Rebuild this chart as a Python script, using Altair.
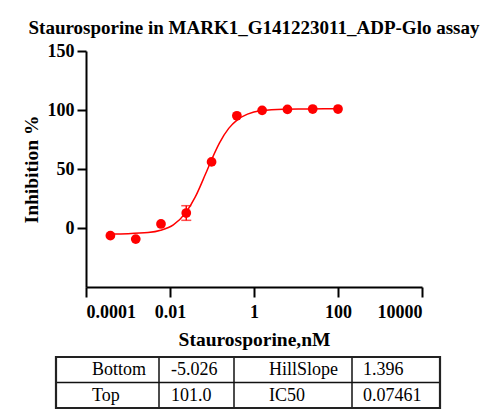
import altair as alt
import pandas as pd

# ---- data ----
conc = [0.000381, 0.00153, 0.0061, 0.0244, 0.0977, 0.391, 1.5625, 6.25, 25, 100]
inhib = [-6.5, -9.4, 3.4, 12.7, 56.0, 95.1, 99.7, 100.5, 100.8, 100.8]
err = [0, 0, 0, 6.2, 0, 0, 0, 0, 0, 0]

curve_x = [0.00038, 0.001, 0.003, 0.006, 0.012, 0.024, 0.04, 0.07, 0.1, 0.15,
           0.25, 0.4, 0.7, 1.5, 5, 20, 100]
curve_y = [-5.0, -4.8, -3.9, -1.9, 2.7, 13.2, 26.3, 45.7, 58.7, 72.0,
           84.4, 91.7, 96.5, 99.5, 100.7, 100.9, 101.0]

x_ticks = [0.0001, 0.01, 1, 100, 10000]
y_ticks = [0, 50, 100, 150]

table_row1 = ["Bottom", "-5.026", "HillSlope", "1.396"]
table_row2 = ["Top", "101.0", "IC50", "0.07461"]

TITLE = "Staurosporine in MARK1_G141223011_ADP-Glo assay"
XTITLE = "Staurosporine,nM"
YTITLE = "Inhibition %"

# ---- layout ----
FONT = "Liberation Serif"
RED = "#ff0000"
W, H = 336, 236

pts = pd.DataFrame({"conc": conc, "inhib": inhib, "err": err})
pts["lo"] = pts["inhib"] - pts["err"]
pts["hi"] = pts["inhib"] + pts["err"]
curve = pd.DataFrame({"conc": curve_x, "inhib": curve_y})

xscale = alt.Scale(type="log", domain=[0.0001, 10000])
yscale = alt.Scale(domain=[-50, 150])

xaxis = alt.Axis(values=x_ticks, format="~g", title=XTITLE, labelPadding=6,
                 titlePadding=9, tickSize=10)
yaxis = alt.Axis(values=y_ticks, title=YTITLE, tickSize=9, titlePadding=6,
                 labelPadding=3)

line = alt.Chart(curve).mark_line(color=RED, strokeWidth=1.5, interpolate="monotone").encode(
    x=alt.X("conc:Q", scale=xscale, axis=xaxis),
    y=alt.Y("inhib:Q", scale=yscale, axis=yaxis),
)

errbars = alt.Chart(pts).transform_filter("datum.err > 0")
err_rule = errbars.mark_rule(color=RED, strokeWidth=1.5).encode(
    x=alt.X("conc:Q", scale=xscale), y=alt.Y("lo:Q", scale=yscale), y2="hi:Q")
err_lo = errbars.mark_tick(color=RED, orient="horizontal", size=10, thickness=1.5).encode(
    x=alt.X("conc:Q", scale=xscale), y=alt.Y("lo:Q", scale=yscale))
err_hi = errbars.mark_tick(color=RED, orient="horizontal", size=10, thickness=1.5).encode(
    x=alt.X("conc:Q", scale=xscale), y=alt.Y("hi:Q", scale=yscale))

dots = alt.Chart(pts).mark_point(filled=True, color=RED, size=95, opacity=1).encode(
    x=alt.X("conc:Q", scale=xscale), y=alt.Y("inhib:Q", scale=yscale))

# ---- table below the axis (pixel layout relative to plot origin) ----
one = pd.DataFrame({"k": [0]})
TX0, TX1 = -30, 354
TY0, TY1 = 306, 357
TYM = 331.5
col_edges = [73, 148, 266]
text_x = [6, 85, 183, 277]
text_y = [319, 344.5]

layers = [line, err_rule, err_lo, err_hi, dots]

for cx in col_edges:
    layers.append(alt.Chart(one).mark_rule(color="#111", strokeWidth=1.5).encode(
        x=alt.value(cx), y=alt.value(TY0), y2=alt.value(TY1)))
layers.append(alt.Chart(one).mark_rule(color="#111", strokeWidth=1.5).encode(
    x=alt.value(TX0), x2=alt.value(TX1), y=alt.value(TYM)))
layers.append(alt.Chart(one).mark_rect(fillOpacity=0, stroke="#222", strokeWidth=2.2).encode(
    x=alt.value(TX0), x2=alt.value(TX1), y=alt.value(TY0), y2=alt.value(TY1)))

cells = []
for r, row in enumerate([table_row1, table_row2]):
    for c, txt in enumerate(row):
        cells.append({"row": r, "col": c, "txt": txt})
cells_df = pd.DataFrame(cells)
for r in range(2):
    for c in range(4):
        layers.append(
            alt.Chart(cells_df)
            .transform_filter(f"datum.row == {r} && datum.col == {c}")
            .mark_text(font=FONT, fontSize=18, align="left", baseline="middle", color="black")
            .encode(x=alt.value(text_x[c]), y=alt.value(text_y[r]), text="txt:N")
        )

chart = alt.layer(*layers).properties(
    width=W, height=H,
    title=alt.TitleParams(TITLE, font=FONT, fontSize=19, fontWeight="bold",
                          anchor="middle", color="black", offset=4),
    padding={"left": 13, "top": 11, "right": 5, "bottom": 5},
).configure_view(stroke=None).configure_axis(
    grid=False, domainColor="black", domainWidth=2, tickColor="black", tickWidth=2,
    labelFont=FONT, labelFontSize=18, labelFontWeight="bold", labelColor="black",
    titleFont=FONT, titleFontSize=19.5, titleFontWeight="bold", titleColor="black",
)

chart.save("out.html", embed_options={"renderer": "svg", "actions": False})
